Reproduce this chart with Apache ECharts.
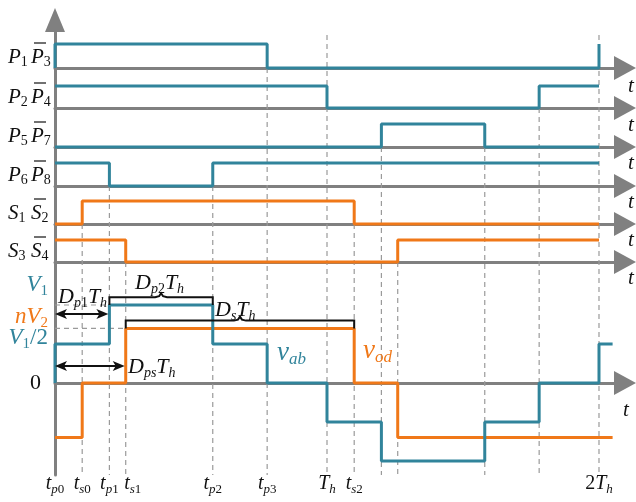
<!DOCTYPE html>
<html>
<head>
<meta charset="utf-8">
<script src="https://cdn.jsdelivr.net/npm/echarts@6/dist/echarts.min.js"></script>
<style>
  html, body { margin: 0; padding: 0; background: #fff; }
  #chart { width: 636px; height: 502px; }
</style>
</head>
<body>
<div id="chart"></div>
<script>
// switching instants, in units of Th
const Th = 1
const tS0 = 0.10, tP1 = 0.20, tS1 = 0.26, tP2 = 0.58, tP3 = 0.78

// gate signals: edge times and the level held after each edge
const p13Times = [0, 0, tP3, 2]
const p13Levels = [0, 1, 0, 1]
const p24Times = [0, Th, Th + tP3, 2]
const p24Levels = [1, 0, 1, 1]
const p57Times = [0, Th + tP1, Th + tP2, 2]
const p57Levels = [0, 1, 0, 0]
const p68Times = [0, tP1, tP2, 2]
const p68Levels = [1, 0, 1, 1]
const s12Times = [0, tS0, Th + tS0, 2]
const s12Levels = [0, 1, 0, 0]
const s34Times = [0, tS1, Th + tS1, 2]
const s34Levels = [1, 0, 1, 1]

// bridge voltages, V1 = 1
const nV2 = 0.7
const vabTimes = [0, 0, tP1, tP2, tP3, Th, Th + tP1, Th + tP2, Th + tP3, 2, 2.05]
const vabLevels = [0, 0.5, 1, 0.5, 0, -0.5, -1, -0.5, 0, 0.5, 0.5]
const vodTimes = [0, tS0, tS1, Th + tS0, Th + tS1, 2.05]
const vodLevels = [-nV2, 0, nV2, 0, -nV2, -nV2]

// time axis tick labels
const tickTimes = [0, tS0, tP1, tS1, tP2, tP3, Th, Th + tS0, 2]
const tickLabels = [
  '{m|t}{si|p}{s|0}', '{m|t}{si|s}{s|0}', '{m|t}{si|p}{s|1}', '{m|t}{si|s}{s|1}',
  '{m|t}{si|p}{s|2}', '{m|t}{si|p}{s|3}', '{m|T}{si|h}', '{m|t}{si|s}{s|2}', '{n|2}{m|T}{si|h}'
]

// dashed guides: time and the row they hang from (-1 = from the top)
const guideTimes = [tS0, tP1, tS1, tP2, tP3, Th, Th + tS0, Th + tP1, Th + tS1, Th + tP2, Th + tP3, 2]
const guideRows = [4, 3, 5, 3, 0, -1, 4, 2, 5, 2, 1, -1]

// row labels: [main, sub] for the plain and the barred switch
const rowNames = [
  ['P', '1', 'P', '3'], ['P', '2', 'P', '4'], ['P', '5', 'P', '7'],
  ['P', '6', 'P', '8'], ['S', '1', 'S', '2'], ['S', '3', 'S', '4']
]

const teal = '#31849B', orange = '#F07818', gray = '#808080', ink = '#111'
const serif = "'Liberation Serif', 'Times New Roman', serif"
const xMax = 2.0956
const rowTop = [44, 86, 124, 163, 201, 240]
const rowBase = [68, 108, 147, 186, 224, 262]

const rows = [
  { times: p13Times, levels: p13Levels, color: teal },
  { times: p24Times, levels: p24Levels, color: teal },
  { times: p57Times, levels: p57Levels, color: teal },
  { times: p68Times, levels: p68Levels, color: teal },
  { times: s12Times, levels: s12Levels, color: orange },
  { times: s34Times, levels: s34Levels, color: orange }
]

const chart = echarts.init(document.getElementById('chart'))

const arrowLine = { color: gray, width: 3 }
const grids = [{ left: 55, right: 11, top: 20, bottom: 27, outerBoundsMode: 'none' }]
const xAxes = [{ type: 'value', gridIndex: 0, min: 0, max: xMax, show: false }]
const yAxes = [{
  type: 'value', gridIndex: 0, min: 0, max: 1,
  axisLine: { show: true, symbol: ['none', 'triangle'], symbolSize: [20, 24], lineStyle: arrowLine },
  axisTick: { show: false }, axisLabel: { show: false }, splitLine: { show: false }
}]

function addGrid(top, height, ymin, ymax) {
  const gi = grids.length
  grids.push({ left: 55, right: 11, top: top, height: height, outerBoundsMode: 'none' })
  xAxes.push({
    type: 'value', gridIndex: gi, min: 0, max: xMax,
    axisLine: { show: true, onZero: true, symbol: ['none', 'triangle'], symbolSize: [24, 22], lineStyle: arrowLine },
    axisTick: { show: false }, axisLabel: { show: false }, splitLine: { show: false }
  })
  yAxes.push({ type: 'value', gridIndex: gi, min: ymin, max: ymax, show: false })
  return gi
}

function stepSeries(gi, times, levels, color) {
  return {
    type: 'line', xAxisIndex: gi, yAxisIndex: gi, step: 'end',
    data: times.map((t, k) => [t, levels[k]]),
    symbol: 'none', clip: false, silent: true, animation: false, z: 3,
    lineStyle: { color: color, width: 3 }, itemStyle: { color: color }
  }
}

const series = []
rows.forEach((r, i) => {
  const gi = addGrid(rowTop[i], rowBase[i] - rowTop[i], 0, 1)
  series.push(stepSeries(gi, r.times, r.levels, r.color))
})
const VG = addGrid(305, 156, -1, 1)
series.push(stepSeries(VG, vodTimes, vodLevels, orange))
series.push(stepSeries(VG, vabTimes, vabLevels, teal))

chart.setOption({
  animation: false,
  grid: grids,
  xAxis: xAxes,
  yAxis: yAxes,
  series: series
})

// ---------- annotations ----------
function px(gi, t, v) { return chart.convertToPixel({ gridIndex: gi }, [t, v]) }

function richSet(color, big, sub, pad) {
  return {
    m: { fontStyle: 'italic', fontSize: big, fontFamily: serif, fill: color },
    n: { fontSize: big, fontFamily: serif, fill: color },
    si: { fontStyle: 'italic', fontSize: sub, fontFamily: serif, fill: color, padding: [pad, 0, 0, 0] },
    s: { fontSize: sub, fontFamily: serif, fill: color, padding: [pad, 0, 0, 0] }
  }
}
const richRow = richSet(ink, 21, 14, 11)
const richTick = richSet(ink, 20, 13, 11)
const richInkL = richSet(ink, 22, 14, 12)
const richTeal = richSet(teal, 23, 15, 12)
const richOrange = richSet(orange, 23, 15, 12)
const richTealV = richSet(teal, 27, 17, 14)
const richOrangeV = richSet(orange, 27, 17, 14)

function txt(x, y, text, rich, align) {
  return {
    type: 'text', x: x, y: y, z: 20, silent: true,
    style: { text: text, rich: rich, textAlign: align || 'left', textVerticalAlign: 'middle', fill: ink, font: '20px ' + serif }
  }
}
function seg(x1, y1, x2, y2, color, w, dash) {
  return {
    type: 'line', z: dash ? 1 : 15, silent: true,
    shape: { x1: x1, y1: y1, x2: x2, y2: y2 },
    style: { stroke: color, lineWidth: w, lineDash: dash || null }
  }
}
function head(x, y, dir) {
  // filled arrow head whose tip sits on (x, y), pointing left (-1) or right (+1)
  const L = 12, H = 5, N = 3
  return {
    type: 'polygon', z: 16, silent: true,
    shape: { points: [[x, y], [x - dir * L, y - H], [x - dir * (L - N), y], [x - dir * L, y + H]] },
    style: { fill: ink }
  }
}
function brace(t1, t2, vLow, vTop) {
  const a = px(VG, t1, vLow), b = px(VG, t1, vTop), c = px(VG, t2, vTop), d = px(VG, t2, vLow)
  const m = (b[0] + c[0]) / 2, y = b[1]
  return {
    type: 'polyline', z: 15, silent: true,
    shape: { points: [a, b, [m - 6, y], [m - 2, y - 1], [m, y - 4], [m + 2, y - 1], [m + 6, y], c, d] },
    style: { stroke: ink, lineWidth: 2, fill: null }
  }
}

const g = []
const bottomY = px(0, 0, 0)[1]
guideTimes.forEach((t, i) => {
  const r = guideRows[i]
  const x = px(VG, t, 0)[0]
  const y0 = r >= 0 ? px(r + 1, t, 0)[1] : px(1, t, 1)[1] - 9
  g.push(seg(x, y0, x, bottomY, '#9a9a9a', 1.2, [5, 4]))
})

// reference levels
let a = px(VG, 0, 1), b = px(VG, tP1, 1)
g.push(seg(a[0], a[1], b[0], b[1], '#9a9a9a', 1.2, [5, 4]))
a = px(VG, 0, nV2); b = px(VG, tS1, nV2)
g.push(seg(a[0], a[1], b[0], b[1], '#9a9a9a', 1.2, [5, 4]))

// double arrows
;[[tP1, 0.885], [tS1, 0.218]].forEach(([t, v]) => {
  const p = px(VG, 0, v), q = px(VG, t, v)
  q[0] -= 1
  g.push(seg(p[0] + 6, p[1], q[0] - 6, q[1], ink, 2))
  g.push(head(p[0], p[1], -1), head(q[0], q[1], 1))
})

// braces
g.push(brace(tP1, tP2, 1, 1.1))
g.push(brace(tS1, Th + tS0, nV2, 0.8))

// row labels
rowNames.forEach((nm, i) => {
  const cy = rowBase[i] - 11
  g.push(txt(8, cy, '{m|' + nm[0] + '}{s|' + nm[1] + '}', richRow))
  g.push(txt(31, cy, '{m|' + nm[2] + '}{s|' + nm[3] + '}', richRow))
  g.push(seg(34, cy - 14, 46, cy - 14, ink, 1.2))
})

// t labels at the arrow ends
;[86, 125, 163, 202, 240, 278].forEach(y => g.push(txt(631, y, '{m|t}', richRow, 'center')))
g.push(txt(626, 410, '{m|t}', richRow, 'center'))

// tick labels (t_s1 sits just right of its guide)
tickTimes.forEach((t, i) => {
  const x = px(VG, t, 0)[0] + (i === 3 ? 7 : 0)
  g.push(txt(x, 484, tickLabels[i], richTick, 'center'))
})

// voltage level labels
g.push(txt(48, 285, '{m|V}{s|1}', richTeal, 'right'))
g.push(txt(48, 317, '{m|nV}{s|2}', richOrange, 'right'))
g.push(txt(48, 338, '{m|V}{s|1}{n|/2}', richTeal, 'right'))
g.push(txt(41, 383, '{n|0}', richInkL, 'right'))

// duty labels
g.push(txt(58, 297, '{m|D}{si|p}{s|1}{m|T}{si|h}', richInkL))
g.push(txt(135, 283, '{m|D}{si|p}{s|2}{m|T}{si|h}', richInkL))
g.push(txt(215, 310, '{m|D}{si|s}{m|T}{si|h}', richInkL))
g.push(txt(128, 367, '{m|D}{si|ps}{m|T}{si|h}', richInkL))

// waveform names
g.push(txt(277, 353, '{m|v}{si|ab}', richTealV))
g.push(txt(363, 351, '{m|v}{si|od}', richOrangeV))

chart.setOption({ graphic: { elements: g } })
</script>
</body>
</html>
